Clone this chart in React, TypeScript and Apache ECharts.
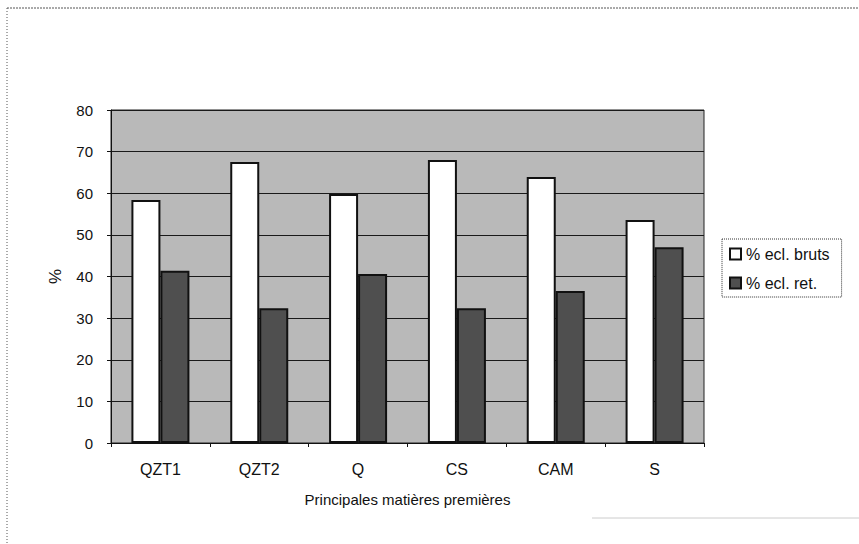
import React, { useEffect, useRef } from "react";
import * as echarts from "echarts";

const categories = ["QZT1", "QZT2", "Q", "CS", "CAM", "S"];
const bruts = [58.4, 67.5, 59.8, 68.0, 63.9, 53.6];
const ret = [41.4, 32.4, 40.6, 32.4, 36.5, 47.0];
const seriesNames = ["% ecl. bruts", "% ecl. ret."];
const xAxisTitle = "Principales matières premières";
const yAxisTitle = "%";

const FONT = "'Liberation Sans', Arial, sans-serif";

export default function App() {
  const ref = useRef<HTMLDivElement>(null);
  useEffect(() => {
    if (!ref.current) return;
    const chart = echarts.init(ref.current, null, { renderer: "svg" });
    chart.setOption({
      animation: false,
      backgroundColor: "#ffffff",
      textStyle: { fontFamily: FONT },
      grid: {
        left: 111,
        top: 110,
        width: 593,
        height: 333,
        show: true,
        backgroundColor: "#b9b9b9",
        borderColor: "#222",
        borderWidth: 1,
      },
      legend: {
        orient: "vertical",
        left: 722,
        top: 239,
        padding: [7, 12, 6, 7],
        itemGap: 13,
        itemWidth: 11,
        itemHeight: 11,
        icon: "rect",
        borderColor: "#333",
        borderWidth: 1,
        borderType: "dotted",
        textStyle: { fontFamily: FONT, fontSize: 16, color: "#111", padding: [0, 0, 0, 0] },
        data: seriesNames,
      },
      xAxis: {
        type: "category",
        data: categories,
        name: xAxisTitle,
        nameLocation: "middle",
        nameGap: 49,
        nameTextStyle: { fontFamily: FONT, fontSize: 15, color: "#111" },
        axisLine: { lineStyle: { color: "#111", width: 1 } },
        axisTick: { show: true, length: 4, lineStyle: { color: "#111" }, alignWithLabel: false },
        axisLabel: { fontFamily: FONT, fontSize: 16, color: "#111", margin: 18 },
      },
      yAxis: {
        type: "value",
        min: 0,
        max: 80,
        interval: 10,
        name: yAxisTitle,
        nameLocation: "middle",
        nameGap: 47,
        nameRotate: 90,
        nameTextStyle: { fontFamily: FONT, fontSize: 17, color: "#111" },
        axisLine: { show: true, lineStyle: { color: "#111", width: 1 } },
        axisTick: { show: true, length: 4, lineStyle: { color: "#111" } },
        axisLabel: { fontFamily: FONT, fontSize: 15, color: "#111", margin: 18 },
        splitLine: { show: true, lineStyle: { color: "#1a1a1a", width: 1 } },
      },
      series: [
        {
          name: seriesNames[0],
          type: "bar",
          data: bruts,
          barWidth: 29,
          barGap: "0%",
          itemStyle: { color: "#ffffff", borderColor: "#111", borderWidth: 2 },
        },
        {
          name: seriesNames[1],
          type: "bar",
          data: ret,
          barWidth: 29,
          barGap: "0%",
          itemStyle: { color: "#4f4f4f", borderColor: "#111", borderWidth: 2 },
        },
      ],
      graphic: [
        {
          type: "line",
          shape: { x1: 7, y1: 8, x2: 859, y2: 8 },
          style: { stroke: "#555", lineWidth: 1, lineDash: [2, 1] },
        },
        {
          type: "line",
          shape: { x1: 7, y1: 8, x2: 7, y2: 544 },
          style: { stroke: "#555", lineWidth: 1, lineDash: [1, 2] },
        },
        {
          type: "line",
          shape: { x1: 592, y1: 518, x2: 859, y2: 518 },
          style: { stroke: "#ccc", lineWidth: 1 },
        },
      ],
    });
    return () => chart.dispose();
  }, []);
  return (
    <div
      ref={ref}
      style={{ position: "absolute", left: 0, top: 0, width: 859, height: 544 }}
    />
  );
}
